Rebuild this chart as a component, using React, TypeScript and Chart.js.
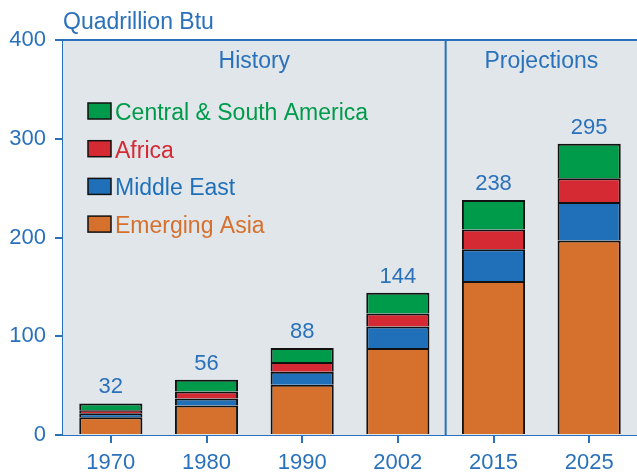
import React, { useEffect, useRef } from "react";
import { Chart, registerables } from "chart.js";

Chart.register(...registerables);

const categories = ["1970", "1980", "1990", "2002", "2015", "2025"];
const emergingAsia = [18, 30, 51, 88, 156, 197];
const middleEast = [4, 7, 13, 22, 32, 39];
const africa = [3, 7, 10, 13, 20, 24];
const centralSouthAmerica = [7, 12, 14, 21, 30, 35];
const totals = [32, 56, 88, 144, 238, 295];
const yTicks = [0, 100, 200, 300, 400];
const unitLabel = "Quadrillion Btu";
const periodLabels = ["History", "Projections"];

const FONT = '"Liberation Sans", Arial, Helvetica, sans-serif';
const BLUE = "#2A71BB";
const BG = "#E1E6EB";
const C_ASIA = "#D6702D";
const C_ME = "#1F70B8";
const C_AFR = "#D52A34";
const C_CSA = "#009B4A";

const overlay = {
  id: "overlay",
  beforeDatasetsDraw(chart: any) {
    const { ctx, chartArea: a } = chart;
    ctx.save();
    ctx.fillStyle = BG;
    ctx.fillRect(a.left, a.top, a.right - a.left, a.bottom - a.top);
    ctx.strokeStyle = BLUE;
    ctx.lineWidth = 2;
    ctx.beginPath();
    ctx.moveTo(a.left, a.top);
    ctx.lineTo(a.right, a.top);
    const x = chart.scales.x;
    const xd = (x.getPixelForValue(3) + x.getPixelForValue(4)) / 2;
    ctx.moveTo(xd, a.top);
    ctx.lineTo(xd, a.bottom);
    ctx.stroke();
    ctx.fillStyle = BLUE;
    ctx.font = `23px ${FONT}`;
    ctx.textAlign = "center";
    ctx.textBaseline = "alphabetic";
    ctx.fillText(periodLabels[0], (a.left + xd) / 2, a.top + 28);
    ctx.fillText(periodLabels[1], (xd + a.right) / 2, a.top + 28);
    ctx.textAlign = "left";
    ctx.fillText(unitLabel, a.left, a.top - 11);
    ctx.restore();
  },
  afterDatasetsDraw(chart: any) {
    const { ctx, chartArea: a } = chart;
    const x = chart.scales.x;
    const y = chart.scales.y;
    ctx.save();
    ctx.fillStyle = BLUE;
    ctx.font = `22px ${FONT}`;
    ctx.textAlign = "center";
    ctx.textBaseline = "alphabetic";
    totals.forEach((t, i) => {
      ctx.fillText(String(t), x.getPixelForValue(i), y.getPixelForValue(t) - 10);
    });
    // legend
    const items = [...chart.data.datasets].reverse();
    ctx.font = `23px ${FONT}`;
    ctx.textAlign = "left";
    items.forEach((ds: any, k: number) => {
      const by = a.top + 63 + k * 37.7;
      const bx = a.left + 25;
      ctx.fillStyle = ds.backgroundColor;
      ctx.fillRect(bx, by, 23, 16);
      ctx.strokeStyle = "#111";
      ctx.lineWidth = 1.5;
      ctx.strokeRect(bx, by, 23, 16);
      ctx.fillStyle = ds.backgroundColor;
      ctx.fillText(ds.label, bx + 27, by + 17);
    });
    ctx.restore();
  },
};

export default function App() {
  const ref = useRef<HTMLCanvasElement>(null);
  useEffect(() => {
    if (!ref.current) return;
    const mk = (label: string, data: number[], color: string) => ({
      label,
      data,
      backgroundColor: color,
      borderColor: "#111",
      borderWidth: 2,
      barPercentage: 0.66,
      categoryPercentage: 1,
    });
    const chart = new Chart(ref.current, {
      type: "bar",
      data: {
        labels: categories,
        datasets: [
          mk("Emerging Asia", emergingAsia, C_ASIA),
          mk("Middle East", middleEast, C_ME),
          mk("Africa", africa, C_AFR),
          mk("Central & South America", centralSouthAmerica, C_CSA),
        ],
      },
      options: {
        responsive: false,
        animation: false,
        layout: { padding: { top: 40, left: 0, right: 0, bottom: 0 } },
        plugins: { legend: { display: false }, tooltip: { enabled: false } },
        scales: {
          x: {
            stacked: true,
            afterFit: (s: any) => {
              s.height = 40;
            },
            grid: {
              offset: false,
              drawOnChartArea: false,
              tickLength: 8,
              color: BLUE,
              lineWidth: 2,
            },
            border: { color: BLUE, width: 2 },
            ticks: { color: BLUE, font: { size: 22, family: FONT }, padding: 7 },
          },
          y: {
            stacked: true,
            min: 0,
            max: 400,
            afterFit: (s: any) => {
              s.width = 63;
            },
            afterBuildTicks: (s: any) => {
              s.ticks = yTicks.map((v) => ({ value: v }));
            },
            grid: {
              drawOnChartArea: false,
              tickLength: 8,
              color: BLUE,
              lineWidth: 2,
            },
            border: { color: BLUE, width: 2 },
            ticks: { color: BLUE, font: { size: 22, family: FONT }, padding: 9 },
          },
        },
      },
      plugins: [overlay],
    });
    return () => chart.destroy();
  }, []);
  return (
    <div style={{ position: "absolute", left: 0, top: 0, width: 637, height: 475 }}>
      <canvas ref={ref} width={637} height={475} style={{ width: 637, height: 475 }} />
    </div>
  );
}
